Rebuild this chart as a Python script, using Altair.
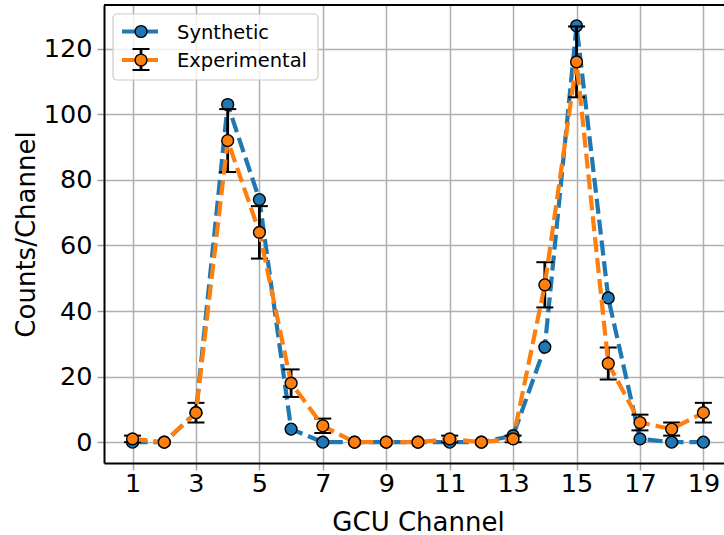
import altair as alt
import pandas as pd

# ---- data ----
channels = list(range(1, 20))
synthetic = [0, 0, 9, 103, 74, 4, 0, 0, 0, 0, 0, 0, 2, 29, 127, 44, 1, 0, 0]
experimental = [1, 0, 9, 92, 64, 18, 5, 0, 0, 0, 1, 0, 1, 48, 116, 24, 6, 4, 9]
experimental_err = [1.0, 0, 3.0, 9.6, 8.0, 4.2, 2.2, 0, 0, 0, 1.0, 0, 1.0, 6.9, 10.8, 4.9, 2.4, 2.0, 3.0]
x_ticks = [1, 3, 5, 7, 9, 11, 13, 15, 17, 19]
y_ticks = [0, 20, 40, 60, 80, 100, 120]
legend_labels = ["Synthetic", "Experimental"]

BLUE = "#1f77b4"
ORANGE = "#ff7f0e"
FONT = "DejaVu Sans"
W, H = 620, 458

syn_df = pd.DataFrame({"ch": channels, "val": synthetic})
exp_df = pd.DataFrame({"ch": channels, "val": experimental, "err": experimental_err})
exp_df["lo"] = exp_df["val"] - exp_df["err"]
exp_df["hi"] = exp_df["val"] + exp_df["err"]
err_df = exp_df[exp_df["err"] > 0]

xs = alt.Scale(domain=[0.1, 19.65], nice=False, zero=False)
ys = alt.Scale(domain=[-6.35, 133.35], nice=False, zero=False)

x_axis = alt.Axis(values=x_ticks, title="GCU Channel", format="d",
                  labelFontSize=25.5, titleFontSize=26, labelFont=FONT, titleFont=FONT,
                  labelColor="black", titleColor="black", titleFontWeight="normal",
                  grid=True, gridColor="#b0b0b0", gridWidth=1.5,
                  domainColor="black", domainWidth=2,
                  tickColor="#a0a0a0", tickSize=7, tickWidth=1.5,
                  labelPadding=1, titleX=314, titleY=67, titleBaseline="alphabetic")
y_axis = alt.Axis(values=y_ticks, title="Counts/Channel", format="d",
                  labelFontSize=25.5, titleFontSize=26, labelFont=FONT, titleFont=FONT,
                  labelColor="black", titleColor="black", titleFontWeight="normal",
                  grid=True, gridColor="#b0b0b0", gridWidth=1.5,
                  domainColor="black", domainWidth=2,
                  tickColor="#a0a0a0", tickSize=7, tickWidth=1.5,
                  labelPadding=5, titleAngle=270, titleX=-70, titleY=229,
                  titleBaseline="alphabetic", titleAnchor="middle")

dash = [15, 6]
PT_SIZE = 140

syn_line = alt.Chart(syn_df).mark_line(color=BLUE, strokeWidth=4.2, strokeDash=dash).encode(
    x=alt.X("ch:Q", scale=xs, axis=x_axis),
    y=alt.Y("val:Q", scale=ys, axis=y_axis),
)
syn_pts = alt.Chart(syn_df).mark_point(filled=True, fill=BLUE, stroke="black", strokeWidth=1.4,
                                        size=PT_SIZE, opacity=1, shape="circle").encode(
    x=alt.X("ch:Q", scale=xs), y=alt.Y("val:Q", scale=ys))

err_rule = alt.Chart(err_df).mark_rule(color="black", strokeWidth=2.8).encode(
    x=alt.X("ch:Q", scale=xs), y=alt.Y("lo:Q", scale=ys), y2="hi:Q")
cap_hi = alt.Chart(err_df).mark_tick(color="black", thickness=2, size=17, orient="horizontal",
                                     opacity=1).encode(
    x=alt.X("ch:Q", scale=xs), y=alt.Y("hi:Q", scale=ys))
cap_lo = alt.Chart(err_df).mark_tick(color="black", thickness=2, size=17, orient="horizontal",
                                     opacity=1).encode(
    x=alt.X("ch:Q", scale=xs), y=alt.Y("lo:Q", scale=ys))

exp_line = alt.Chart(exp_df).mark_line(color=ORANGE, strokeWidth=4.2, strokeDash=dash).encode(
    x=alt.X("ch:Q", scale=xs), y=alt.Y("val:Q", scale=ys))
exp_pts = alt.Chart(exp_df).mark_point(filled=True, fill=ORANGE, stroke="black", strokeWidth=1.4,
                                        size=PT_SIZE, opacity=1, shape="circle").encode(
    x=alt.X("ch:Q", scale=xs), y=alt.Y("val:Q", scale=ys))

# top frame line
top_frame = alt.Chart(pd.DataFrame({"k": [0]})).mark_rule(color="black", strokeWidth=2).encode(
    x=alt.value(0), x2=alt.value(W), y=alt.value(0))

# ---- legend (decoration, pixel placed) ----
leg = pd.DataFrame({"k": [0]})
leg_box = alt.Chart(leg).mark_rect(fill="white", fillOpacity=0.8, stroke="#cccccc", strokeWidth=1.2,
                                   cornerRadius=4).encode(
    x=alt.value(9), x2=alt.value(214), y=alt.value(9), y2=alt.value(75))
leg_syn_line = alt.Chart(leg).mark_rule(color=BLUE, strokeWidth=4.2, strokeDash=dash).encode(
    x=alt.value(18), x2=alt.value(57), y=alt.value(26.5))
leg_syn_pt = alt.Chart(leg).mark_point(filled=True, fill=BLUE, stroke="black", strokeWidth=1.4,
                                       size=PT_SIZE, opacity=1, shape="circle").encode(
    x=alt.value(37), y=alt.value(26.5))
leg_exp_line = alt.Chart(leg).mark_rule(color=ORANGE, strokeWidth=4.2, strokeDash=dash).encode(
    x=alt.value(18), x2=alt.value(57), y=alt.value(55))
leg_exp_err = alt.Chart(leg).mark_rule(color="black", strokeWidth=2.8).encode(
    x=alt.value(37), y=alt.value(44), y2=alt.value(65))
leg_exp_cap1 = alt.Chart(leg).mark_rule(color="black", strokeWidth=2).encode(
    x=alt.value(28.5), x2=alt.value(45.5), y=alt.value(44))
leg_exp_cap2 = alt.Chart(leg).mark_rule(color="black", strokeWidth=2).encode(
    x=alt.value(28.5), x2=alt.value(45.5), y=alt.value(65))
leg_exp_pt = alt.Chart(leg).mark_point(filled=True, fill=ORANGE, stroke="black", strokeWidth=1.4,
                                       size=PT_SIZE, opacity=1, shape="circle").encode(
    x=alt.value(37), y=alt.value(55))
leg_text_df = pd.DataFrame({"label": legend_labels, "py": [26.5, 55]})
leg_text = alt.Chart(leg_text_df).mark_text(align="left", baseline="middle", font=FONT,
                                            fontSize=19.5, color="black", dy=1).encode(
    x=alt.value(73), y=alt.Y("py:Q", scale=None), text="label:N")

chart = alt.layer(
    syn_line, syn_pts, err_rule, cap_hi, cap_lo, exp_line, exp_pts, top_frame,
    leg_box, leg_syn_line, leg_syn_pt, leg_exp_line, leg_exp_err, leg_exp_cap1, leg_exp_cap2,
    leg_exp_pt, leg_text,
).properties(
    width=W, height=H,
    autosize=alt.AutoSizeParams(type="none"),
    padding={"left": 104, "top": 5, "right": 0, "bottom": 72},
    background="white",
).configure_view(stroke=None)

chart.save("out.html", embed_options={"renderer": "svg", "actions": False})
